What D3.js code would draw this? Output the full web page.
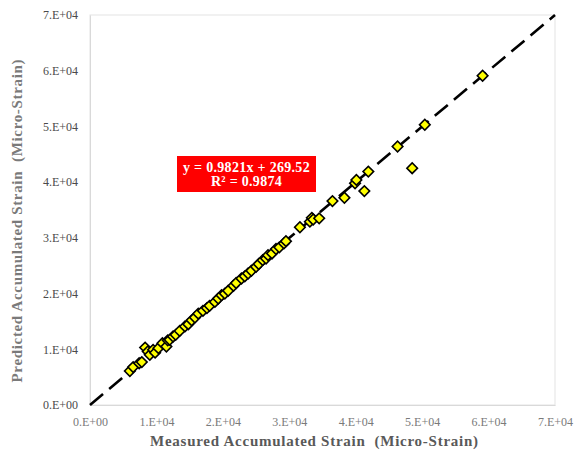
<!DOCTYPE html>
<html><head><meta charset="utf-8">
<script src="https://cdn.jsdelivr.net/npm/d3@7"></script>
<style>body{margin:0;background:#fff}svg{display:block}text{white-space:pre}</style>
</head><body>
<svg id="c" width="575" height="457"></svg>
<script>
const measured = [6000,6500,7400,7800,8300,8700,9000,9500,9800,10300,10900,11500,11700,12000,12500,12900,13500,14300,14800,15300,15800,16300,17000,17600,18000,18800,19300,19800,20300,20800,21600,22000,22800,23300,23800,24300,25000,25400,26000,26500,26800,27400,28000,28500,29200,29500,31600,33100,33400,33600,34500,36500,38300,39900,40100,41300,41900,46300,48500,50400,59100];
const predicted = [6100,6800,7500,7700,10300,9600,9000,9900,9400,10200,11100,10500,11600,11700,12300,12600,13300,14100,14500,15200,15700,16400,16900,17400,17800,18500,19100,19700,20000,20500,21400,21900,22700,23100,23600,24100,24800,25300,26000,26300,26900,27200,28000,28300,29000,29400,31900,32900,33600,33300,33500,36600,37200,39800,40400,38400,41900,46400,42500,50300,59100];
const tickValues = [0,10000,20000,30000,40000,50000,60000,70000];
const tickLabels = ["0.E+00","1.E+04","2.E+04","3.E+04","4.E+04","5.E+04","6.E+04","7.E+04"];
const lineEnds = [0,70000];
const equationLines = ["y = 0.9821x + 269.52","R² = 0.9874"];
const xTitle = "Measured Accumulated Strain  (Micro-Strain)";
const yTitle = "Predicted Accumulated Strain  (Micro-Strain)";

const svg = d3.select("#c");
const x = d3.scaleLinear().domain([0,70000]).range([90,555]);
const y = d3.scaleLinear().domain([0,70000]).range([405,15]);
const serif = "'Liberation Serif', 'Times New Roman', serif";

// plot border
svg.append("rect").attr("x",x(0)).attr("y",y(70000)).attr("width",x(70000)-x(0)).attr("height",y(0)-y(70000))
  .attr("fill","none").attr("stroke","#e3e3e3").attr("stroke-width",1);

// axes
const xAxis = d3.axisBottom(x).tickValues(tickValues).tickFormat((d,i)=>tickLabels[i]).tickSize(0).tickPadding(12);
const gx = svg.append("g").attr("transform",`translate(0,${y(0)})`).call(xAxis);
gx.select(".domain").attr("stroke","#d9d9d9");
gx.selectAll("text").attr("font-family",serif).attr("font-size","12px").attr("fill","#7a7a7a");

const yAxis = d3.axisLeft(y).tickValues(tickValues).tickFormat((d,i)=>tickLabels[i]).tickSize(0).tickPadding(12);
const gy = svg.append("g").attr("transform",`translate(${x(0)},0)`).call(yAxis);
gy.select(".domain").attr("stroke","#d9d9d9");
gy.selectAll("text").attr("font-family",serif).attr("font-size","12px").attr("fill","#4a4a4a");

// 1:1 dashed line
svg.append("line").attr("x1",x(lineEnds[0])).attr("y1",y(lineEnds[0])).attr("x2",x(lineEnds[1])).attr("y2",y(lineEnds[1]))
  .attr("stroke","#000").attr("stroke-width",2.6).attr("stroke-dasharray","17,8");

// points
const pts = measured.map((m,i)=>({m, p:predicted[i]}));
svg.append("g").selectAll("path").data(pts).join("path")
  .attr("d", d3.symbol(d3.symbolSquare, 56)())
  .attr("transform", d=>`translate(${x(d.m)},${y(d.p)}) rotate(45)`)
  .attr("fill","#ffff00").attr("stroke","#000").attr("stroke-width",1.6);

// equation box
const bx = 177, by = 156, bw = 139, bh = 36;
svg.append("rect").attr("x",bx).attr("y",by).attr("width",bw).attr("height",bh).attr("fill","#ff0000");
svg.append("g").selectAll("text").data(equationLines).join("text")
  .attr("x", bx+bw/2).attr("y",(d,i)=>by+15.5+i*14.5)
  .attr("text-anchor","middle").attr("font-family",serif).attr("font-weight","bold")
  .attr("font-size","14px").attr("fill","#fff").attr("letter-spacing","0.3px")
  .text(d=>d);

// axis titles
svg.append("text").attr("x",314).attr("y",446).attr("text-anchor","middle")
  .attr("font-family",serif).attr("font-weight","bold").attr("font-size","15px").attr("fill","#595959")
  .attr("textLength",328).attr("lengthAdjust","spacing").text(xTitle);
svg.append("text").attr("transform","translate(22,221) rotate(-90)").attr("text-anchor","middle")
  .attr("font-family",serif).attr("font-weight","bold").attr("font-size","15px").attr("fill","#7a7a7a")
  .attr("textLength",323).attr("lengthAdjust","spacing").text(yTitle);
</script>
</body></html>
